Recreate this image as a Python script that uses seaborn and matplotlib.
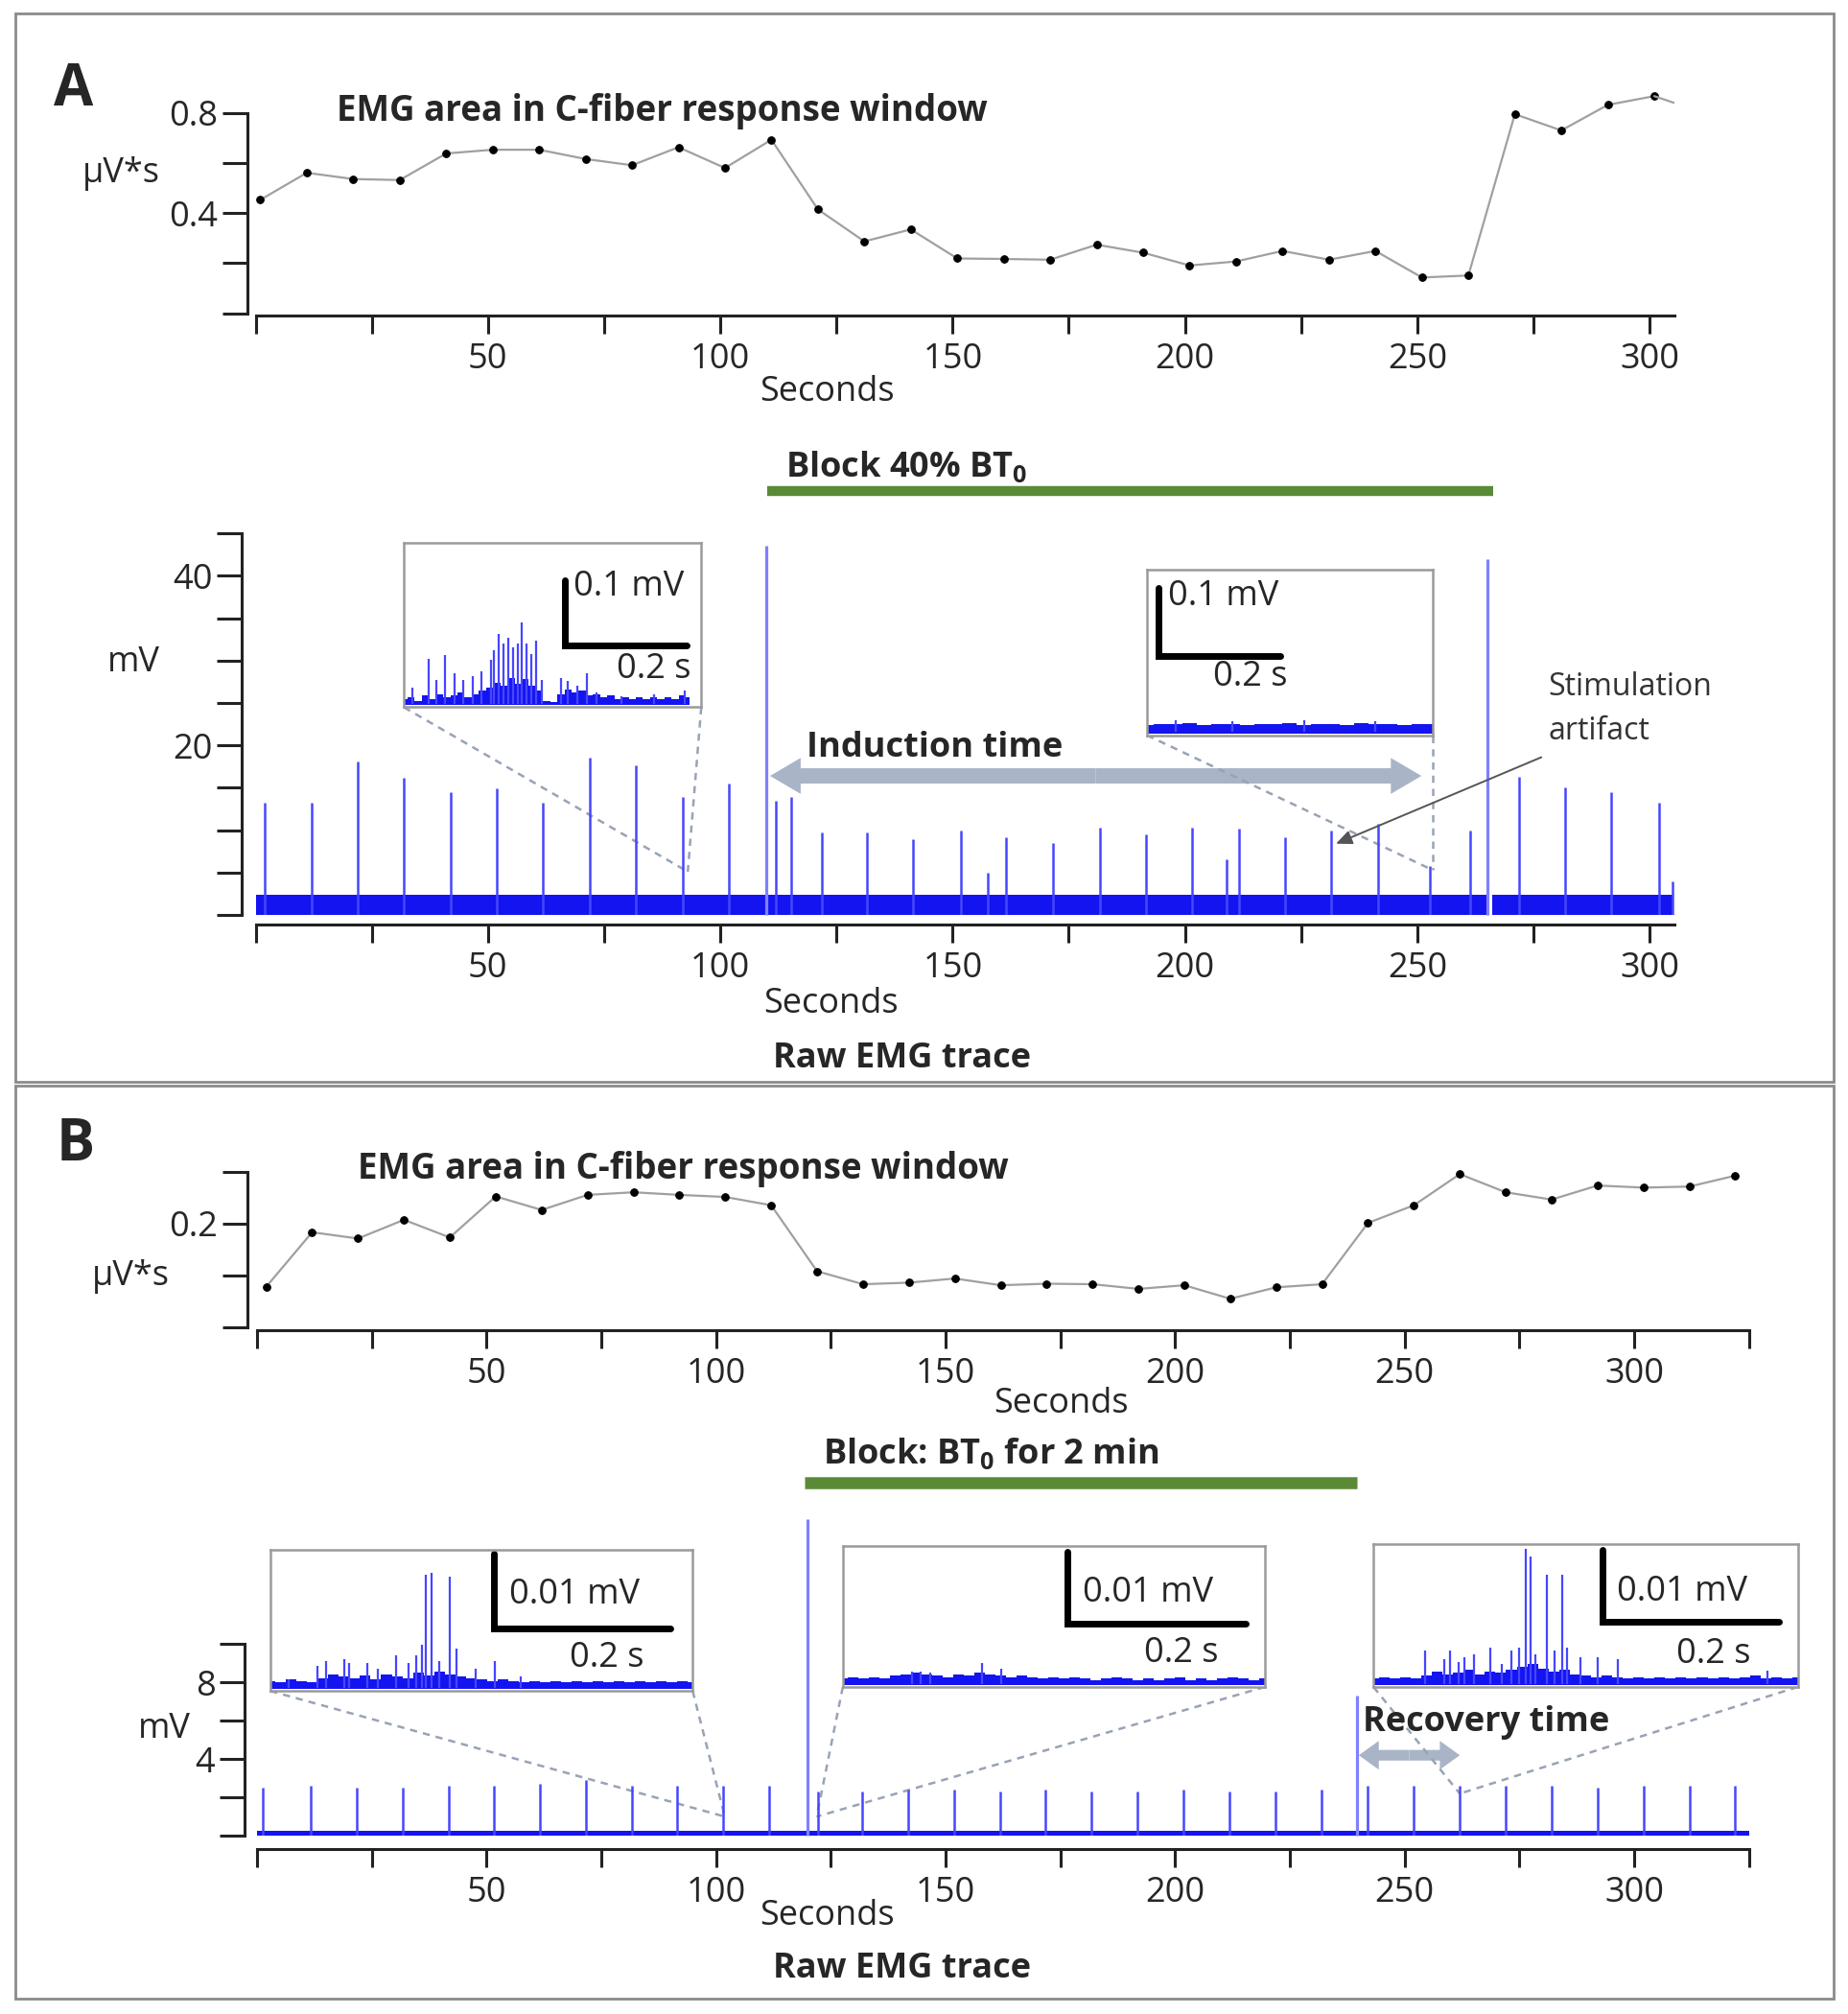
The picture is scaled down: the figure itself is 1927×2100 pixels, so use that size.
import matplotlib
matplotlib.use("Agg")
import numpy as np
import matplotlib.pyplot as plt
import seaborn as sns
from matplotlib.patches import FancyArrowPatch, ArrowStyle, Rectangle

# ---------------- data ----------------
# Panel A, EMG area in C-fiber window (uV*s), one point every 10 s
a_area_t = [1, 11, 21, 31, 41, 51, 61, 71, 81, 91, 101, 111, 121, 131, 141, 151,
            161, 171, 181, 191, 201, 211, 221, 231, 241, 251, 261, 271, 281, 291, 301]
a_area = [0.453, 0.561, 0.536, 0.532, 0.638, 0.653, 0.653, 0.616, 0.591, 0.663, 0.580,
          0.693, 0.415, 0.287, 0.335, 0.219, 0.217, 0.214, 0.274, 0.242, 0.191, 0.207,
          0.249, 0.214, 0.249, 0.143, 0.151, 0.795, 0.730, 0.832, 0.867]
a_tail = (305.3, 0.84)

# Panel A, raw EMG spikes (s, mV)
a_spike_t = [1.9, 12.1, 22.0, 31.9, 42.0, 51.9, 61.8, 71.9, 81.9, 91.9, 101.8, 111.9, 115.2,
             121.8, 131.6, 141.5, 151.7, 157.5, 161.5, 171.6, 181.7, 191.7, 201.6, 208.9,
             211.7, 221.5, 231.5, 241.6, 252.8, 261.4, 272.0, 281.9, 291.8, 302.0, 305.0]
a_spike_mv = [13.2, 13.2, 18.1, 16.2, 14.5, 14.9, 13.2, 18.6, 17.6, 13.9, 15.5, 13.5, 13.9,
              9.7, 9.7, 8.9, 9.9, 5.0, 9.2, 8.5, 10.3, 9.5, 10.3, 6.6,
              10.2, 9.2, 10.0, 10.7, 5.8, 10.0, 16.3, 15.0, 14.5, 13.2, 4.0]
a_artifact_t = [109.8, 265.0]
a_artifact_mv = [43.5, 42.0]
a_band_segments = [(0.0, 109.6), (110.3, 265.5), (266.2, 305.2)]
a_band_mv = 2.4
a_block = (110.0, 266.3)

# Panel B, EMG area
b_area_t = [2, 12, 22, 32, 42, 52, 62, 72, 82, 92, 102, 112, 122, 132, 142, 152, 162,
            172, 182, 192, 202, 212, 222, 232, 242, 252, 262, 272, 282, 292, 302, 312, 322]
b_area = [0.078, 0.183, 0.171, 0.207, 0.173, 0.252, 0.226, 0.255, 0.260, 0.255, 0.251,
          0.235, 0.108, 0.083, 0.086, 0.094, 0.081, 0.084, 0.083, 0.074, 0.081, 0.055,
          0.077, 0.083, 0.201, 0.235, 0.295, 0.260, 0.246, 0.273, 0.269, 0.271, 0.292]

# Panel B, raw EMG spikes
b_spike_t = [1.3, 11.7, 21.7, 31.7, 41.7, 51.6, 61.6, 71.6, 81.6, 91.6, 101.6, 111.6,
             122.1, 131.8, 141.8, 151.9, 161.8, 171.8, 181.8, 191.8, 201.8, 211.8, 221.9,
             231.9, 241.9, 252.0, 262.0, 272.0, 282.0, 292.0, 302.0, 312.0, 322.0]
b_spike_mv = [2.5, 2.6, 2.5, 2.5, 2.6, 2.6, 2.7, 2.9, 2.6, 2.6, 2.6, 2.6,
              2.3, 2.3, 2.4, 2.4, 2.3, 2.4, 2.3, 2.3, 2.4, 2.3, 2.3,
              2.4, 2.6, 2.6, 2.6, 2.6, 2.6, 2.5, 2.6, 2.6, 2.6]
b_artifact_t = [119.9, 239.6]
b_artifact_mv = [16.5, 7.3]
b_band_mv = 0.25
b_block = (119.3, 239.7)

# inset traces (fraction of inset width / height)
a1_peak_x = [0.029, 0.083, 0.11, 0.137, 0.169, 0.201, 0.233, 0.26, 0.292, 0.303, 0.319, 0.335,
             0.352, 0.368, 0.384, 0.395, 0.411, 0.427, 0.443, 0.465, 0.529, 0.551, 0.583,
             0.615, 0.647, 0.733, 0.841, 0.943]
a1_peak_h = [0.118, 0.296, 0.168, 0.316, 0.207, 0.168, 0.187, 0.217, 0.286, 0.345, 0.444, 0.385,
             0.424, 0.365, 0.385, 0.513, 0.385, 0.325, 0.404, 0.168, 0.178, 0.158, 0.128,
             0.207, 0.089, 0.069, 0.079, 0.099]
a1_env = [0.05, 0.06, 0.04, 0.07, 0.05, 0.08, 0.06, 0.07, 0.09, 0.06, 0.08, 0.10, 0.12, 0.15,
          0.13, 0.18, 0.14, 0.17, 0.13, 0.10, 0.04, 0.03, 0.08, 0.11, 0.09, 0.10, 0.07, 0.08,
          0.06, 0.07, 0.05, 0.06, 0.05, 0.06, 0.05, 0.06, 0.05, 0.06, 0.05, 0.07, 0.06]

a2_peak_x = [0.1, 0.3, 0.55, 0.8]
a2_peak_h = [0.09, 0.085, 0.09, 0.085]
a2_env = [0.06, 0.07, 0.065, 0.075, 0.06, 0.07, 0.065, 0.06, 0.07, 0.065, 0.075,
          0.06, 0.07, 0.065, 0.06, 0.075, 0.065, 0.07, 0.06, 0.07, 0.065]

b1_peak_x = [0.044, 0.112, 0.131, 0.176, 0.187, 0.229, 0.255, 0.297, 0.327, 0.346, 0.358,
             0.369, 0.382, 0.399, 0.426, 0.441, 0.486, 0.531, 0.592]
b1_peak_h = [0.085, 0.18, 0.215, 0.225, 0.2, 0.195, 0.16, 0.25, 0.195, 0.25, 0.33,
             0.82, 0.835, 0.215, 0.81, 0.3, 0.16, 0.215, 0.1]
b1_env = [0.07, 0.06, 0.08, 0.07, 0.06, 0.09, 0.12, 0.10, 0.09, 0.11, 0.08, 0.12, 0.10, 0.09,
          0.13, 0.11, 0.14, 0.12, 0.10, 0.09, 0.08, 0.07, 0.08, 0.07, 0.06, 0.07, 0.06, 0.07,
          0.06, 0.07, 0.06, 0.07, 0.06, 0.07, 0.06, 0.07, 0.06, 0.07, 0.06, 0.07, 0.06]

b2_peak_x = [0.163, 0.185, 0.208, 0.33, 0.375]
b2_peak_h = [0.108, 0.11, 0.105, 0.17, 0.126]
b2_env = [0.06, 0.07, 0.06, 0.07, 0.06, 0.08, 0.09, 0.10, 0.09, 0.08, 0.07, 0.09, 0.08, 0.10,
          0.09, 0.08, 0.07, 0.08, 0.07, 0.06, 0.07, 0.06, 0.07, 0.06, 0.05, 0.06, 0.07, 0.06,
          0.05, 0.06, 0.05, 0.06, 0.07, 0.05, 0.06, 0.05, 0.06, 0.07, 0.06, 0.05, 0.06]

b3_peak_x = [0.121, 0.166, 0.181, 0.2, 0.215, 0.238, 0.275, 0.302, 0.325, 0.343, 0.358,
             0.37, 0.381, 0.408, 0.426, 0.445, 0.457, 0.487, 0.528, 0.577, 0.928]
b3_peak_h = [0.253, 0.195, 0.253, 0.172, 0.207, 0.23, 0.276, 0.161, 0.253, 0.276, 0.966,
             0.908, 0.23, 0.782, 0.253, 0.782, 0.276, 0.207, 0.207, 0.195, 0.115]
b3_env = [0.06, 0.07, 0.06, 0.07, 0.06, 0.08, 0.11, 0.09, 0.10, 0.12, 0.09, 0.11, 0.10, 0.12,
          0.14, 0.16, 0.13, 0.11, 0.12, 0.09, 0.08, 0.07, 0.08, 0.07, 0.06, 0.07, 0.06, 0.07,
          0.06, 0.07, 0.06, 0.07, 0.06, 0.07, 0.06, 0.07, 0.08, 0.06, 0.07, 0.06, 0.07]

# ---------------- styling ----------------
sns.set_theme(style="ticks")
plt.rcParams['font.family'] = ['Open Sans', 'DejaVu Sans']
plt.rcParams['mathtext.fontset'] = 'custom'
plt.rcParams['mathtext.rm'] = 'Open Sans'
plt.rcParams['mathtext.bf'] = 'Open Sans:bold'

W, H = 1927, 2100
fig = plt.figure(figsize=(W / 100, H / 100), dpi=100)
fig.patch.set_facecolor('white')

BLUE = '#1414f0'
SPIKE = '#4646ff'
LIGHTBLUE = '#8080ff'
GREEN = '#5a8a36'
ARROW = '#a9b4c7'
DASH = '#98a3b6'
FS = 26


def px_axes(left, top, right, bottom):
    return fig.add_axes([left / W, 1 - bottom / H, (right - left) / W, (bottom - top) / H])


def ftext(x, y, s, **kw):
    kw.setdefault('fontsize', FS)
    kw.setdefault('va', 'baseline')
    return fig.text(x / W, 1 - y / H, s, **kw)


def style_axes(ax, left_off, bottom_off, xmax, ybounds):
    sns.despine(ax=ax)
    ax.set_facecolor('none')
    for s in ('left', 'bottom'):
        ax.spines[s].set_linewidth(2.2)
        ax.spines[s].set_color('#222222')
    ax.spines['left'].set_position(('outward', left_off))
    ax.spines['bottom'].set_position(('outward', bottom_off))
    ax.spines['left'].set_bounds(*ybounds)
    ax.spines['bottom'].set_bounds(0, xmax)
    ax.tick_params(axis='x', direction='out', length=14, width=2.2, labelsize=FS, pad=6,
                   color='#222222')
    ax.tick_params(axis='y', direction='out', length=19, width=2.2, labelsize=FS, pad=3,
                   color='#222222')
    ax.set_xlim(0, xmax)
    ax.grid(False)
    ax.set_xlabel('')
    ax.set_ylabel('')


def seconds_axis(ax, xmax):
    ticks = [t for t in range(0, int(xmax) + 1, 25)]
    labels = [str(t) if t % 50 == 0 and t > 0 else '' for t in ticks]
    ax.set_xticks(ticks, labels=labels)


def area_plot(ax, t, v, color='#a0a0a0'):
    sns.lineplot(x=t, y=v, ax=ax, color=color, lw=1.6, marker='o', markersize=5.5,
                 markerfacecolor='black', markeredgecolor='black', clip_on=False)


def emg_trace(ax, seg, band, spk_t, spk_v, art_t, art_v):
    for x0, x1 in seg:
        ax.fill_between([x0, x1], 0, band, color=BLUE, lw=0)
    ax.vlines(spk_t, 0, spk_v, color=SPIKE, lw=1.8)
    ax.vlines(art_t, 0, art_v, color=LIGHTBLUE, lw=2.3, clip_on=False)


def inset(ax, box, peak_x, peak_h, env, env_end, bar, mv_lbl, mv_pos, s_pos):
    ins = ax.inset_axes(box, transform=ax.transData)
    ins.set_xlim(0, 1)
    ins.set_ylim(0, 1)
    ins.set_xticks([])
    ins.set_yticks([])
    ins.set_facecolor('white')
    for s in ins.spines.values():
        s.set_color('#9a9a9a')
        s.set_linewidth(1.8)
        s.set_visible(True)
    env_x = np.linspace(0, env_end, len(env))
    ins.fill_between(env_x, 0.012, env, step='mid', color=BLUE, lw=0)
    ins.vlines(peak_x, 0.02, peak_h, color=SPIKE, lw=1.6)
    bx, by0, by1, bx1 = bar
    ins.plot([bx, bx, bx1], [by1, by0, by0], color='black', lw=5, solid_joinstyle='miter')
    ins.text(mv_pos[0], mv_pos[1], mv_lbl, fontsize=FS, ha='left', va='center')
    ins.text(s_pos[0], s_pos[1], '0.2 s', fontsize=FS, ha='right', va='center')
    return ins


def connectors(ax, box, target):
    x0, y0, w, h = box
    for cx in (x0, x0 + w):
        ax.plot([cx, target[0]], [y0, target[1]], ls=(0, (3, 2.5)), color=DASH, lw=1.8,
                clip_on=False, zorder=1)


def double_arrow(ax, x0, x1, y, tail, hw, hl):
    mid = (x0 + x1) / 2
    for end in (x0, x1):
        ax.add_patch(FancyArrowPatch((mid, y), (end, y), mutation_scale=1,
                                     arrowstyle=ArrowStyle.Simple(head_length=hl, head_width=hw,
                                                                  tail_width=tail),
                                     color=ARROW, lw=0, shrinkA=0, shrinkB=0, clip_on=False))


# ---------------- panel borders ----------------
for top, bottom in ((14, 1128), (1132, 2084)):
    fig.add_artist(Rectangle((16 / W, 1 - bottom / H), (1912 - 16) / W, (bottom - top) / H,
                             transform=fig.transFigure, fill=False, ec='#8a8a8a', lw=2))

# ---------------- A: EMG area ----------------
ax_a1 = px_axes(266.6, 91.6, 1745.8, 326.7)
area_plot(ax_a1, a_area_t, a_area)
ax_a1.plot([a_area_t[-1], a_tail[0]], [a_area[-1], a_tail[1]], color='#a0a0a0', lw=1.6)
ax_a1.set_ylim(0, 0.9)
style_axes(ax_a1, 6.2, 2, 305.3, (0, 0.8))
seconds_axis(ax_a1, 305.3)
ax_a1.set_yticks([0, 0.2, 0.4, 0.6, 0.8], labels=['', '', '0.4', '', '0.8'])

ftext(56, 110, 'A', fontsize=43, fontweight='bold')
ftext(351, 126, 'EMG area in C-fiber response window', fontsize=26.5, fontweight='bold')
ftext(86, 190, 'µV*s')
ftext(862, 418, 'Seconds', ha='center')

# ---------------- A: raw EMG ----------------
ax_a2 = px_axes(266.6, 547.4, 1745.8, 954)
ax_a2.set_ylim(0, 46)
emg_trace(ax_a2, a_band_segments, a_band_mv, a_spike_t, a_spike_mv, a_artifact_t, a_artifact_mv)
style_axes(ax_a2, 10.5, 7.2, 305.3, (0, 45))
seconds_axis(ax_a2, 305.3)
ax_a2.set_yticks(list(range(0, 46, 5)),
                 labels=['20' if v == 20 else '40' if v == 40 else '' for v in range(0, 46, 5)])
ax_a2.plot(a_block, [50, 50], color=GREEN, lw=7.5, solid_capstyle='butt', clip_on=False)
double_arrow(ax_a2, 110.7, 250.9, 16.4, 11.5, 27, 23)

box_a1 = [31.9, 24.5, 64.0, 19.4]
box_a2 = [191.8, 21.2, 61.5, 19.5]
connectors(ax_a2, box_a1, (93.0, 5.1))
connectors(ax_a2, box_a2, (253.3, 5.3))
inset(ax_a2, box_a1, a1_peak_x, a1_peak_h, a1_env, 0.96,
      (0.542, 0.374, 0.772, 0.952), '0.1 mV', (0.57, 0.73), (0.965, 0.23))
inset(ax_a2, box_a2, a2_peak_x, a2_peak_h, a2_env, 1.0,
      (0.04, 0.481, 0.893, 0.467), '0.1 mV', (0.074, 0.84), (0.493, 0.35))

ax_a2.annotate('', xy=(232.5, 8.4), xytext=(276.7, 18.6),
               arrowprops=dict(arrowstyle='-|>,head_length=0.5,head_width=0.22', color='#555555',
                               lw=1.4, shrinkA=0, shrinkB=0, mutation_scale=20))

ftext(819, 497, r'Block 40% BT$_\mathregular{0}$', fontweight='bold')
ftext(841, 789, 'Induction time', fontweight='bold')
ftext(1614, 725, 'Stimulation', fontsize=23, color='#333333')
ftext(1614, 771, 'artifact', fontsize=23, color='#333333')
ftext(112, 700, 'mV')
ftext(866, 1056, 'Seconds', ha='center')
ftext(941, 1113, 'Raw EMG trace', ha='center', fontweight='bold')

# ---------------- B: EMG area ----------------
ax_b1 = px_axes(268, 1210.7, 1823.8, 1384)
area_plot(ax_b1, b_area_t, b_area)
ax_b1.set_ylim(0, 0.32)
style_axes(ax_b1, 7.2, 2, 325, (0, 0.3))
seconds_axis(ax_b1, 325)
ax_b1.set_yticks([0, 0.1, 0.2, 0.3], labels=['', '', '0.2', ''])

ftext(59, 1210, 'B', fontsize=43, fontweight='bold')
ftext(373, 1229, 'EMG area in C-fiber response window', fontsize=26.5, fontweight='bold')
ftext(96, 1340, 'µV*s')
ftext(1106, 1473, 'Seconds', ha='center')

# ---------------- B: raw EMG ----------------
ax_b2 = px_axes(268, 1704.2, 1823.8, 1914.2)
ax_b2.set_ylim(0, 10.5)
emg_trace(ax_b2, [(0.0, 325.0)], b_band_mv, b_spike_t, b_spike_mv, b_artifact_t, b_artifact_mv)
style_axes(ax_b2, 9.4, 10, 325, (0, 10))
seconds_axis(ax_b2, 325)
ax_b2.set_yticks([0, 2, 4, 6, 8, 10], labels=['', '', '4', '', '8', ''])
ax_b2.plot(b_block, [18.4, 18.4], color=GREEN, lw=9, solid_capstyle='butt', clip_on=False)
double_arrow(ax_b2, 240.0, 262.0, 4.2, 8, 21.6, 15)

box_b1 = [2.9, 7.55, 92.0, 7.36]
box_b2 = [127.6, 7.76, 91.9, 7.37]
box_b3 = [243.2, 7.76, 92.4, 7.47]
connectors(ax_b2, box_b1, (101.9, 1.0))
connectors(ax_b2, box_b2, (121.9, 1.0))
connectors(ax_b2, box_b3, (262.0, 2.2))
inset(ax_b2, box_b1, b1_peak_x, b1_peak_h, b1_env, 1.0,
      (0.53, 0.443, 0.975, 0.948), '0.01 mV', (0.566, 0.68), (0.884, 0.23))
inset(ax_b2, box_b2, b2_peak_x, b2_peak_h, b2_env, 1.0,
      (0.533, 0.45, 0.959, 0.955), '0.01 mV', (0.568, 0.666), (0.89, 0.235))
inset(ax_b2, box_b3, b3_peak_x, b3_peak_h, b3_env, 1.0,
      (0.539, 0.453, 0.955, 0.955), '0.01 mV', (0.574, 0.66), (0.888, 0.23))

ftext(858, 1526, r'Block: BT$_\mathregular{0}$ for 2 min', fontweight='bold')
ftext(1421, 1805, 'Recovery time', fontweight='bold')
ftext(144, 1812, 'mV')
ftext(862, 2007, 'Seconds', ha='center')
ftext(941, 2062, 'Raw EMG trace', ha='center', fontweight='bold')

fig.savefig('out.png', dpi=100, facecolor='white')
